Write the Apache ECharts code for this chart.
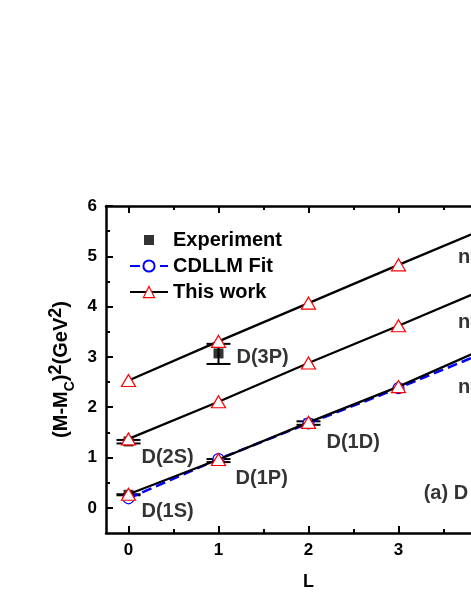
<!DOCTYPE html>
<html><head><meta charset="utf-8">
<script src="https://cdn.jsdelivr.net/npm/echarts@6/dist/echarts.min.js"></script>
<style>html,body{margin:0;padding:0;background:#fff}#c{width:471px;height:609px}</style>
</head><body><div id="c"></div>
<script>
// ---- data ----
const L = [0, 1, 2, 3, 4];
const thisWorkN1 = [0.27, 0.96, 1.70, 2.41, 3.20];
const thisWorkN2 = [1.37, 2.11, 2.88, 3.62, 4.38];
const thisWorkN3 = [2.53, 3.31, 4.07, 4.83, 5.58];
const cdllmFit   = [0.19, 0.97, 1.68, 2.38, 3.12];
const expL    = [0, 0, 1, 1, 2];
const expVal  = [0.26, 1.32, 0.94, 3.07, 1.68];
const expLow  = [0.25, 1.28, 0.91, 2.86, 1.65];
const expHigh = [0.27, 1.35, 0.97, 3.26, 1.72];
const annotL    = [1.2, 0.144, 0.144, 1.19, 2.2, 3.28, 3.66, 3.66, 3.66];
const annotV    = [2.99, 1.0, -0.08, 0.58, 1.29, 0.28, 4.98, 3.69, 2.39];
const annotText = ['D(3P)', 'D(2S)', 'D(1S)', 'D(1P)', 'D(1D)', '(a) D', 'n=3', 'n=2', 'n=1'];
const xTicks = [0, 1, 2, 3, 4];
const xMinorTicks = [0.5, 1.5, 2.5, 3.5];
const yTicks = [0, 1, 2, 3, 4, 5, 6];
const yMinorTicks = [0.5, 1.5, 2.5, 3.5, 4.5, 5.5];

const FONT = '"Liberation Sans", Arial, sans-serif';
const zip = (xs, ys) => xs.map((x, i) => [x, ys[i]]);

const chart = echarts.init(document.getElementById('c'), null, {renderer: 'canvas'});

const AXW = 2.5;
function tickAxis(kind, pos, values, len, showLine, extra) {
  const base = {
    type: 'value', position: pos,
    min: kind === 'x' ? -0.25 : -0.5, max: kind === 'x' ? 4.25 : 6,
    interval: kind === 'x' ? 0.25 : 0.5,
    axisLine: {show: showLine, onZero: false, lineStyle: {color: '#000', width: AXW}},
    axisTick: {show: true, inside: true, length: len, lineStyle: {color: '#000', width: 2}, customValues: values},
    axisLabel: {show: false},
    splitLine: {show: false}
  };
  return Object.assign(base, extra || {});
}

const triStyle = {color: '#fff', borderColor: '#ff0000', borderWidth: 1.2};

function twLine(values) {
  return {
    name: 'This work', type: 'line', data: zip(L, values), z: 5,
    lineStyle: {color: '#000', width: 2.3}, showAllSymbol: true,
    symbol: 'triangle', symbolSize: [14, 12], itemStyle: triStyle
  };
}

chart.setOption({
  animation: false,
  backgroundColor: '#fff',
  grid: {left: 106, top: 206, right: -40, bottom: 76, containLabel: false, outerBoundsMode: 'none'},
  xAxis: [
    tickAxis('x', 'bottom', xTicks, 7, true, {
      name: 'L', nameLocation: 'middle', nameGap: 40,
      nameTextStyle: {fontFamily: FONT, fontWeight: 'bold', fontSize: 18, color: '#000'},
      axisLabel: {show: true, fontFamily: FONT, fontWeight: 'bold', fontSize: 17, color: '#000', margin: 9,
        customValues: xTicks}
    }),
    tickAxis('x', 'bottom', xMinorTicks, 4, false),
    tickAxis('x', 'top', xTicks, 7, true),
    tickAxis('x', 'top', xMinorTicks, 4, false)
  ],
  yAxis: [
    tickAxis('y', 'left', yTicks, 7, true, {
      name: '(M-M{sub|C}){sup|2}(GeV{sup|2})', nameLocation: 'middle', nameGap: 24, nameRotate: 90,
      nameTextStyle: {fontFamily: FONT, fontWeight: 'bold', fontSize: 20, color: '#000', lineHeight: 30,
        rich: {
          sub: {fontFamily: FONT, fontWeight: 'bold', fontSize: 14, color: '#000', verticalAlign: 'bottom', lineHeight: 30, padding: [10, 0, 0, 0]},
          sup: {fontFamily: FONT, fontWeight: 'bold', fontSize: 18, color: '#000', verticalAlign: 'top', lineHeight: 30, padding: [0, 0, 10, 0]}
        }},
      axisLabel: {show: true, fontFamily: FONT, fontWeight: 'bold', fontSize: 17, color: '#000', margin: 9, customValues: yTicks}
    }),
    tickAxis('y', 'left', yMinorTicks, 4, false)
  ],
  legend: {
    orient: 'vertical', left: 124, top: 225, itemWidth: 38, itemHeight: 14, itemGap: 6,
    textStyle: {fontFamily: FONT, fontWeight: 'bold', fontSize: 20, color: '#000'},
    data: [
      {name: 'Experiment', icon: 'path://M-2,-2L-2,-2ZM0,0H10V10H0ZM12,12L12,12Z'},
      {name: 'CDLLM Fit'},
      {name: 'This work', itemStyle: triStyle}
    ]
  },
  series: [
    {
      type: 'custom', name: 'errbars', z: 2,
      data: expL.map((x, i) => [x, expLow[i], expHigh[i]]),
      encode: {x: 0, y: [1, 2]},
      renderItem: function (params, api) {
        const lo = api.coord([api.value(0), api.value(1)]);
        const hi = api.coord([api.value(0), api.value(2)]);
        const hw = 12;
        const st = {stroke: '#000', lineWidth: 2};
        return {type: 'group', children: [
          {type: 'line', shape: {x1: lo[0], y1: lo[1], x2: hi[0], y2: hi[1]}, style: st},
          {type: 'line', shape: {x1: lo[0] - hw, y1: lo[1], x2: lo[0] + hw, y2: lo[1]}, style: st},
          {type: 'line', shape: {x1: hi[0] - hw, y1: hi[1], x2: hi[0] + hw, y2: hi[1]}, style: st}
        ]};
      }
    },
    {
      name: 'Experiment', type: 'scatter', z: 3, data: zip(expL, expVal),
      symbol: 'rect', symbolSize: 10, itemStyle: {color: '#000'}
    },
    {
      name: 'CDLLM Fit', type: 'line', z: 4, data: zip(L, cdllmFit), showAllSymbol: true,
      symbol: 'circle', symbolSize: 11,
      itemStyle: {color: '#fff', borderColor: '#0000ff', borderWidth: 1.2},
      lineStyle: {color: '#0000ff', width: 2.5, type: [10, 5]}
    },
    twLine(thisWorkN1),
    twLine(thisWorkN2),
    twLine(thisWorkN3),
    {
      type: 'scatter', name: 'annot', z: 6, symbolSize: 0, silent: true,
      data: annotL.map((x, i) => ({value: [x, annotV[i]], label: {formatter: annotText[i]}})),
      label: {show: true, position: 'right', distance: 0,
        fontFamily: FONT, fontWeight: 'bold', fontSize: 20, color: '#000'}
    }
  ]
});
</script>
</body></html>
